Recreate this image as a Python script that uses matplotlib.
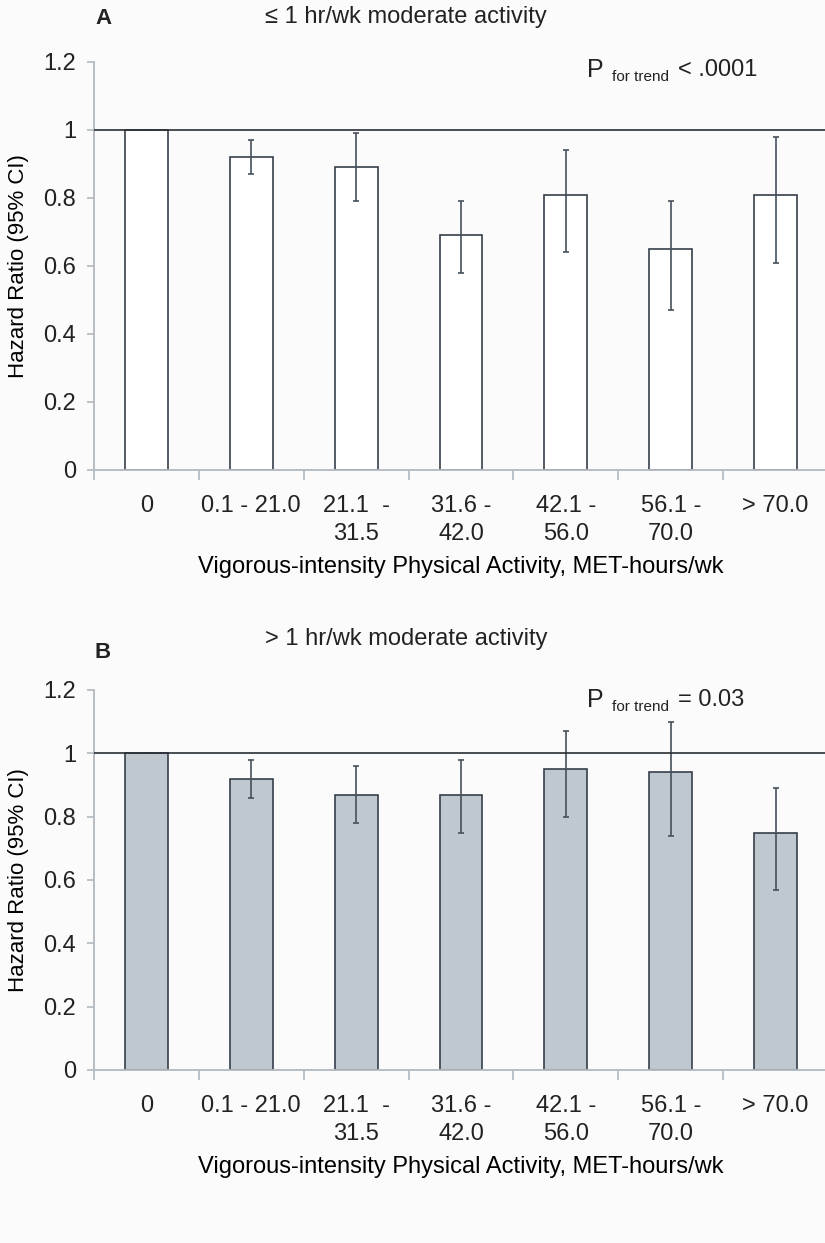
import matplotlib.pyplot as plt
import numpy as np

# data
categories = ["0", "0.1 - 21.0", "21.1  -\n31.5", "31.6 -\n42.0",
              "42.1 -\n56.0", "56.1 -\n70.0", "> 70.0"]
hr_a = [1.0, 0.92, 0.89, 0.69, 0.81, 0.65, 0.81]
lo_a = [1.0, 0.87, 0.79, 0.58, 0.64, 0.47, 0.61]
hi_a = [1.0, 0.97, 0.99, 0.79, 0.94, 0.79, 0.98]
hr_b = [1.0, 0.92, 0.87, 0.87, 0.95, 0.94, 0.75]
lo_b = [1.0, 0.86, 0.78, 0.75, 0.80, 0.74, 0.57]
hi_b = [1.0, 0.98, 0.96, 0.98, 1.07, 1.10, 0.89]
yticks = [0, 0.2, 0.4, 0.6, 0.8, 1.0, 1.2]
ytick_labels = ["0", "0.2", "0.4", "0.6", "0.8", "1", "1.2"]

plt.rcParams['font.family'] = ['Liberation Sans Narrow', 'Liberation Sans', 'DejaVu Sans']
plt.rcParams['text.color'] = '#222222'
plt.rcParams['xtick.labelcolor'] = '#222222'
plt.rcParams['ytick.labelcolor'] = '#222222'

W, H = 825, 1243
fig = plt.figure(figsize=(W / 100, H / 100), dpi=100, facecolor='#fbfbfb')


def px(x, y):
    return x / W, 1 - y / H


def panel(y0, y12, hr, lo, hi, color, letter, letter_y, title, title_y, p_y, p_txt):
    left, bottom = px(94, y0)
    ax = fig.add_axes([left, bottom, 734 / W, (y0 - y12) / H])
    ax.set_facecolor('#fbfbfb')
    x = np.arange(len(hr))
    hr = np.array(hr)
    err = [hr - np.array(lo), np.array(hi) - hr]
    ax.bar(x, hr, width=0.41, color=color, edgecolor='#36404a', linewidth=1.2, zorder=2)
    ax.errorbar(x, hr, yerr=err, fmt='none', ecolor='#46515c', elinewidth=1.2,
                capsize=2.5, capthick=1.2, zorder=3)
    ax.axhline(1.0, color='#2a2f34', linewidth=1.2, zorder=4)
    ax.set_xlim(-0.5, len(hr) - 0.5)
    ax.set_ylim(0, 1.2)
    ax.set_yticks(yticks)
    ax.set_yticklabels(ytick_labels)
    ax.set_xticks(x)
    ax.set_xticklabels(categories, linespacing=1.35)
    ax.set_xticks(np.arange(-0.5, len(hr), 1.0), minor=True)
    ax.tick_params(axis='x', which='major', length=0, pad=18, labelsize=17)
    ax.tick_params(axis='x', which='minor', length=7, color='#b0b8c0', width=1.2)
    ax.tick_params(axis='y', length=5, color='#b0b8c0', width=1.2, labelsize=17, pad=8)
    for s in ['top', 'right']:
        ax.spines[s].set_visible(False)
    for s in ['left', 'bottom']:
        ax.spines[s].set_color('#b0b8c0')
        ax.spines[s].set_linewidth(1.3)
    ax.set_xlabel("Vigorous-intensity Physical Activity, MET-hours/wk", fontsize=17, labelpad=8)
    ax.set_ylabel("Hazard Ratio (95% CI)", fontsize=16, labelpad=10)
    fig.text(*px(95, letter_y), letter, fontsize=16, fontweight='bold',
             ha='left', va='center')
    fig.text(*px(406, title_y), title, fontsize=17, ha='center', va='center')
    fig.text(*px(587, p_y), "P", fontsize=18, ha='left', va='center')
    fig.text(*px(612, p_y + 7), "for trend", fontsize=11, ha='left', va='center')
    fig.text(*px(678, p_y), p_txt, fontsize=17, ha='left', va='center')
    return ax


panel(470, 62, hr_a, lo_a, hi_a, '#ffffff', "A", 19, "\u2264 1 hr/wk moderate activity", 17,
      70, "< .0001")
panel(1070, 690, hr_b, lo_b, hi_b, '#bfc7cf', "B", 652, "> 1 hr/wk moderate activity", 639,
      700, "= 0.03")

fig.savefig("out.png", dpi=100, facecolor=fig.get_facecolor())
